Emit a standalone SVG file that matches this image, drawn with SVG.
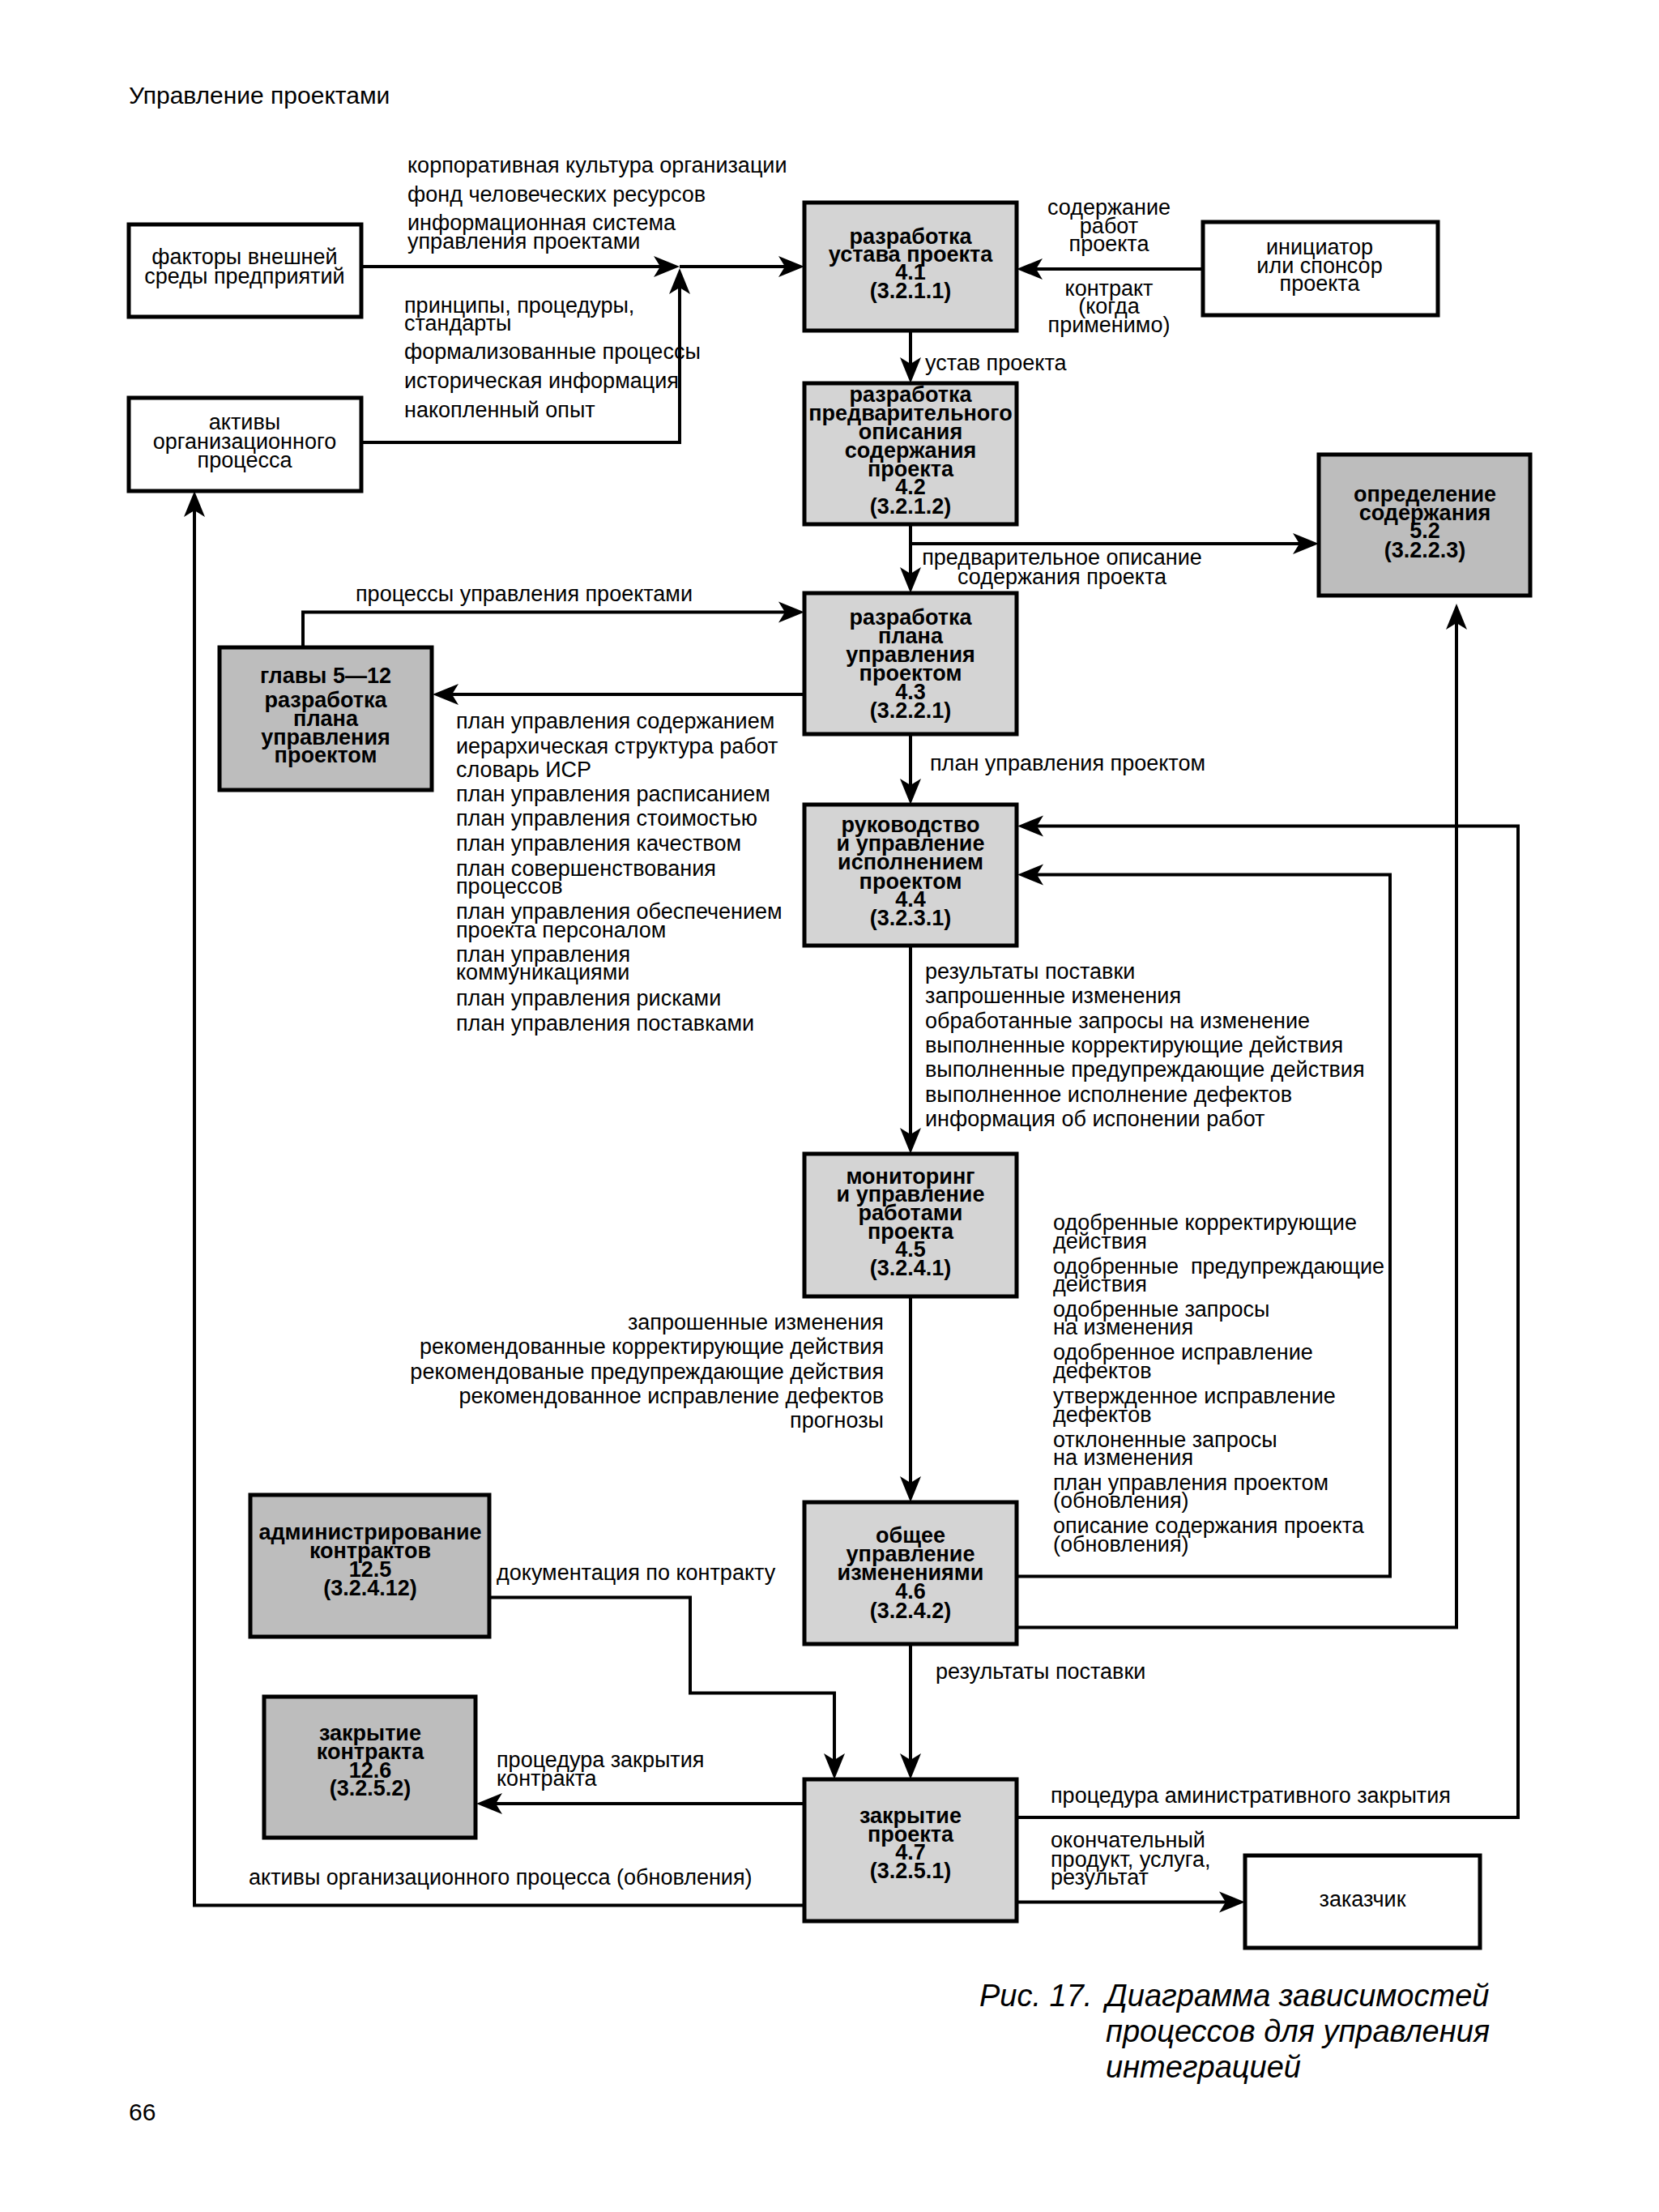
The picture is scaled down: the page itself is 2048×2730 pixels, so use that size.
<svg xmlns="http://www.w3.org/2000/svg" width="2048" height="2730" viewBox="0 0 2048 2730">
<style>
text{font-family:"Liberation Sans",Arial,Helvetica,sans-serif;fill:#000}
.lbl{font-size:27px}
.hdr{font-size:30px}
.nd{font-size:27px;font-weight:bold;text-anchor:middle}
.nr{font-size:27px;text-anchor:middle}
.end{text-anchor:end}
.cap{font-size:38px;font-style:italic}
.light{fill:#d4d4d4;stroke:#000;stroke-width:5}
.dark{fill:#bdbdbd;stroke:#000;stroke-width:5}
.white{fill:#fff;stroke:#000;stroke-width:5}
.conn path{fill:none;stroke:#000;stroke-width:4;marker-end:url(#ah)}
</style>
<defs>
<marker id="ah" viewBox="-34 -15 36 30" refX="-10" refY="0" markerWidth="36" markerHeight="30" markerUnits="userSpaceOnUse" orient="auto">
<path d="M0,0 L-32,-13 L-24,0 L-32,13 Z" fill="#000"/>
</marker>
</defs>
<rect width="2048" height="2730" fill="#fff"/>
<text class="hdr" x="159" y="128">Управление проектами</text>

<g id="connectors" class="conn">
<path d="M446,329 H829"/>
<path d="M839,329 H983"/>
<path d="M446,546 H839 V341"/>
<path d="M1485,332 H1265"/>
<path d="M1124,408 V463"/>
<path d="M1124,647 V722"/>
<path d="M1124,671 H1618"/>
<path d="M374,799 V755.5 H983"/>
<path d="M993,857 H544"/>
<path d="M1124,906 V983"/>
<path d="M1124,1167 V1414"/>
<path d="M1124,1600 V1844"/>
<path d="M1255,1945.5 H1716 V1079.5 H1266"/>
<path d="M1255,2008.5 H1798 V755"/>
<path d="M1124,2029 V2186"/>
<path d="M604,1971.5 H852 V2089.5 H1030 V2186"/>
<path d="M1255,2243 H1874 V1019.5 H1266"/>
<path d="M993,2226 H598"/>
<path d="M1255,2347.5 H1527"/>
<path d="M993,2351.5 H240 V616"/>
</g>

<g id="labels">
<text class="lbl"><tspan x="503" y="213">корпоративная культура организации</tspan><tspan x="503" y="249">фонд человеческих ресурсов</tspan><tspan x="503" y="284">информационная система</tspan><tspan x="503" y="307">управления проектами</tspan></text>
<text class="lbl"><tspan x="499" y="386">принципы, процедуры,</tspan><tspan x="499" y="408">стандарты</tspan><tspan x="499" y="443">формализованные процессы</tspan><tspan x="499" y="479">историческая информация</tspan><tspan x="499" y="515">накопленный опыт</tspan></text>
<text class="nr"><tspan x="1369" y="265">содержание</tspan><tspan x="1369" y="288">работ</tspan><tspan x="1369" y="310">проекта</tspan></text>
<text class="nr"><tspan x="1369" y="365">контракт</tspan><tspan x="1369" y="387">(когда</tspan><tspan x="1369" y="410">применимо)</tspan></text>
<text class="lbl" x="1142" y="457">устав проекта</text>
<text class="nr"><tspan x="1311" y="697">предварительное описание</tspan><tspan x="1311" y="721">содержания проекта</tspan></text>
<text class="lbl" x="439" y="742">процессы управления проектами</text>
<text class="lbl"><tspan x="563" y="899">план управления содержанием</tspan><tspan x="563" y="930">иерархическая структура работ</tspan><tspan x="563" y="959">словарь ИСР</tspan><tspan x="563" y="989">план управления расписанием</tspan><tspan x="563" y="1019">план управления стоимостью</tspan><tspan x="563" y="1050">план управления качеством</tspan><tspan x="563" y="1081">план совершенствования</tspan><tspan x="563" y="1103">процессов</tspan><tspan x="563" y="1134">план управления обеспечением</tspan><tspan x="563" y="1157">проекта персоналом</tspan><tspan x="563" y="1187">план управления</tspan><tspan x="563" y="1209">коммуникациями</tspan><tspan x="563" y="1241">план управления рисками</tspan><tspan x="563" y="1272">план управления поставками</tspan></text>
<text class="lbl" x="1148" y="951">план управления проектом</text>
<text class="lbl"><tspan x="1142" y="1208">результаты поставки</tspan><tspan x="1142" y="1238">запрошенные изменения</tspan><tspan x="1142" y="1269">обработанные запросы на изменение</tspan><tspan x="1142" y="1299">выполненные корректирующие действия</tspan><tspan x="1142" y="1329">выполненные предупреждающие действия</tspan><tspan x="1142" y="1360">выполненное исполнение дефектов</tspan><tspan x="1142" y="1390">информация об испонении работ</tspan></text>
<text class="lbl end"><tspan x="1091" y="1641">запрошенные изменения</tspan><tspan x="1091" y="1671">рекомендованные корректирующие действия</tspan><tspan x="1091" y="1702">рекомендованые предупреждающие действия</tspan><tspan x="1091" y="1732">рекомендованное исправление дефектов</tspan><tspan x="1091" y="1762">прогнозы</tspan></text>
<text class="lbl" xml:space="preserve"><tspan x="1300" y="1518">одобренные корректирующие</tspan><tspan x="1300" y="1541">действия</tspan><tspan x="1300" y="1572">одобренные  предупреждающие</tspan><tspan x="1300" y="1594">действия</tspan><tspan x="1300" y="1625">одобренные запросы</tspan><tspan x="1300" y="1647">на изменения</tspan><tspan x="1300" y="1678">одобренное исправление</tspan><tspan x="1300" y="1701">дефектов</tspan><tspan x="1300" y="1732">утвержденное исправление</tspan><tspan x="1300" y="1755">дефектов</tspan><tspan x="1300" y="1786">отклоненные запросы</tspan><tspan x="1300" y="1808">на изменения</tspan><tspan x="1300" y="1839">план управления проектом</tspan><tspan x="1300" y="1861">(обновления)</tspan><tspan x="1300" y="1892">описание содержания проекта</tspan><tspan x="1300" y="1915">(обновления)</tspan></text>
<text class="lbl" x="613" y="1950">документация по контракту</text>
<text class="lbl" x="1155" y="2072">результаты поставки</text>
<text class="lbl"><tspan x="613" y="2181">процедура закрытия</tspan><tspan x="613" y="2204">контракта</tspan></text>
<text class="lbl" x="1297" y="2225">процедура аминистративного закрытия</text>
<text class="lbl"><tspan x="1297" y="2280">окончательный</tspan><tspan x="1297" y="2304">продукт, услуга,</tspan><tspan x="1297" y="2326">результат</tspan></text>
<text class="lbl" x="307" y="2326">активы организационного процесса (обновления)</text>
</g>

<g id="n-factors">
<rect class="white" x="159" y="277" width="287" height="114"/>
<text class="nr"><tspan x="302" y="326">факторы внешней</tspan><tspan x="302" y="350">среды предприятий</tspan></text>
</g>
<g id="n-assets">
<rect class="white" x="159" y="491" width="287" height="115"/>
<text class="nr"><tspan x="302" y="530">активы</tspan><tspan x="302" y="554">организационного</tspan><tspan x="302" y="577">процесса</tspan></text>
</g>
<g id="n-4-1">
<rect class="light" x="993" y="250" width="262" height="158"/>
<text class="nd"><tspan x="1124" y="301">разработка</tspan><tspan x="1124" y="323">устава проекта</tspan><tspan x="1124" y="345">4.1</tspan><tspan x="1124" y="368">(3.2.1.1)</tspan></text>
</g>
<g id="n-initiator">
<rect class="white" x="1485" y="274" width="290" height="115"/>
<text class="nr"><tspan x="1629" y="314">инициатор</tspan><tspan x="1629" y="337">или спонсор</tspan><tspan x="1629" y="359">проекта</tspan></text>
</g>
<g id="n-4-2">
<rect class="light" x="993" y="473" width="262" height="174"/>
<text class="nd"><tspan x="1124" y="496">разработка</tspan><tspan x="1124" y="519">предварительного</tspan><tspan x="1124" y="542">описания</tspan><tspan x="1124" y="565">содержания</tspan><tspan x="1124" y="588">проекта</tspan><tspan x="1124" y="610">4.2</tspan><tspan x="1124" y="634">(3.2.1.2)</tspan></text>
</g>
<g id="n-5-2">
<rect class="dark" x="1628" y="561" width="261" height="174"/>
<text class="nd"><tspan x="1759" y="619">определение</tspan><tspan x="1759" y="642">содержания</tspan><tspan x="1759" y="664">5.2</tspan><tspan x="1759" y="688">(3.2.2.3)</tspan></text>
</g>
<g id="n-4-3">
<rect class="light" x="993" y="732" width="262" height="174"/>
<text class="nd"><tspan x="1124" y="771">разработка</tspan><tspan x="1124" y="794">плана</tspan><tspan x="1124" y="817">управления</tspan><tspan x="1124" y="840">проектом</tspan><tspan x="1124" y="863">4.3</tspan><tspan x="1124" y="886">(3.2.2.1)</tspan></text>
</g>
<g id="n-ch5-12">
<rect class="dark" x="271" y="799" width="262" height="176"/>
<text class="nd"><tspan x="402" y="843">главы 5—12</tspan><tspan x="402" y="873">разработка</tspan><tspan x="402" y="896">плана</tspan><tspan x="402" y="919">управления</tspan><tspan x="402" y="941">проектом</tspan></text>
</g>
<g id="n-4-4">
<rect class="light" x="993" y="993" width="262" height="174"/>
<text class="nd"><tspan x="1124" y="1027">руководство</tspan><tspan x="1124" y="1050">и управление</tspan><tspan x="1124" y="1073">исполнением</tspan><tspan x="1124" y="1097">проектом</tspan><tspan x="1124" y="1119">4.4</tspan><tspan x="1124" y="1142">(3.2.3.1)</tspan></text>
</g>
<g id="n-4-5">
<rect class="light" x="993" y="1424" width="262" height="176"/>
<text class="nd"><tspan x="1124" y="1461">мониторинг</tspan><tspan x="1124" y="1483">и управление</tspan><tspan x="1124" y="1506">работами</tspan><tspan x="1124" y="1529">проекта</tspan><tspan x="1124" y="1551">4.5</tspan><tspan x="1124" y="1574">(3.2.4.1)</tspan></text>
</g>
<g id="n-12-5">
<rect class="dark" x="309" y="1845" width="295" height="175"/>
<text class="nd"><tspan x="457" y="1900">администрирование</tspan><tspan x="457" y="1923">контрактов</tspan><tspan x="457" y="1946">12.5</tspan><tspan x="457" y="1969">(3.2.4.12)</tspan></text>
</g>
<g id="n-4-6">
<rect class="light" x="993" y="1854" width="262" height="175"/>
<text class="nd"><tspan x="1124" y="1904">общее</tspan><tspan x="1124" y="1927">управление</tspan><tspan x="1124" y="1950">изменениями</tspan><tspan x="1124" y="1973">4.6</tspan><tspan x="1124" y="1997">(3.2.4.2)</tspan></text>
</g>
<g id="n-12-6">
<rect class="dark" x="326" y="2094" width="261" height="174"/>
<text class="nd"><tspan x="457" y="2148">закрытие</tspan><tspan x="457" y="2171">контракта</tspan><tspan x="457" y="2194">12.6</tspan><tspan x="457" y="2216">(3.2.5.2)</tspan></text>
</g>
<g id="n-4-7">
<rect class="light" x="993" y="2196" width="262" height="175"/>
<text class="nd"><tspan x="1124" y="2250">закрытие</tspan><tspan x="1124" y="2273">проекта</tspan><tspan x="1124" y="2295">4.7</tspan><tspan x="1124" y="2318">(3.2.5.1)</tspan></text>
</g>
<g id="n-customer">
<rect class="white" x="1537" y="2290" width="290" height="114"/>
<text class="nr" x="1682" y="2353">заказчик</text>
</g>

<g id="caption">
<text class="cap"><tspan x="1209" y="2476">Рис. 17.</tspan><tspan x="1365" y="2476">Диаграмма зависимостей</tspan><tspan x="1365" y="2520">процессов для управления</tspan><tspan x="1365" y="2564">интеграцией</tspan></text>
</g>
<text class="hdr" x="159" y="2617">66</text>
</svg>
